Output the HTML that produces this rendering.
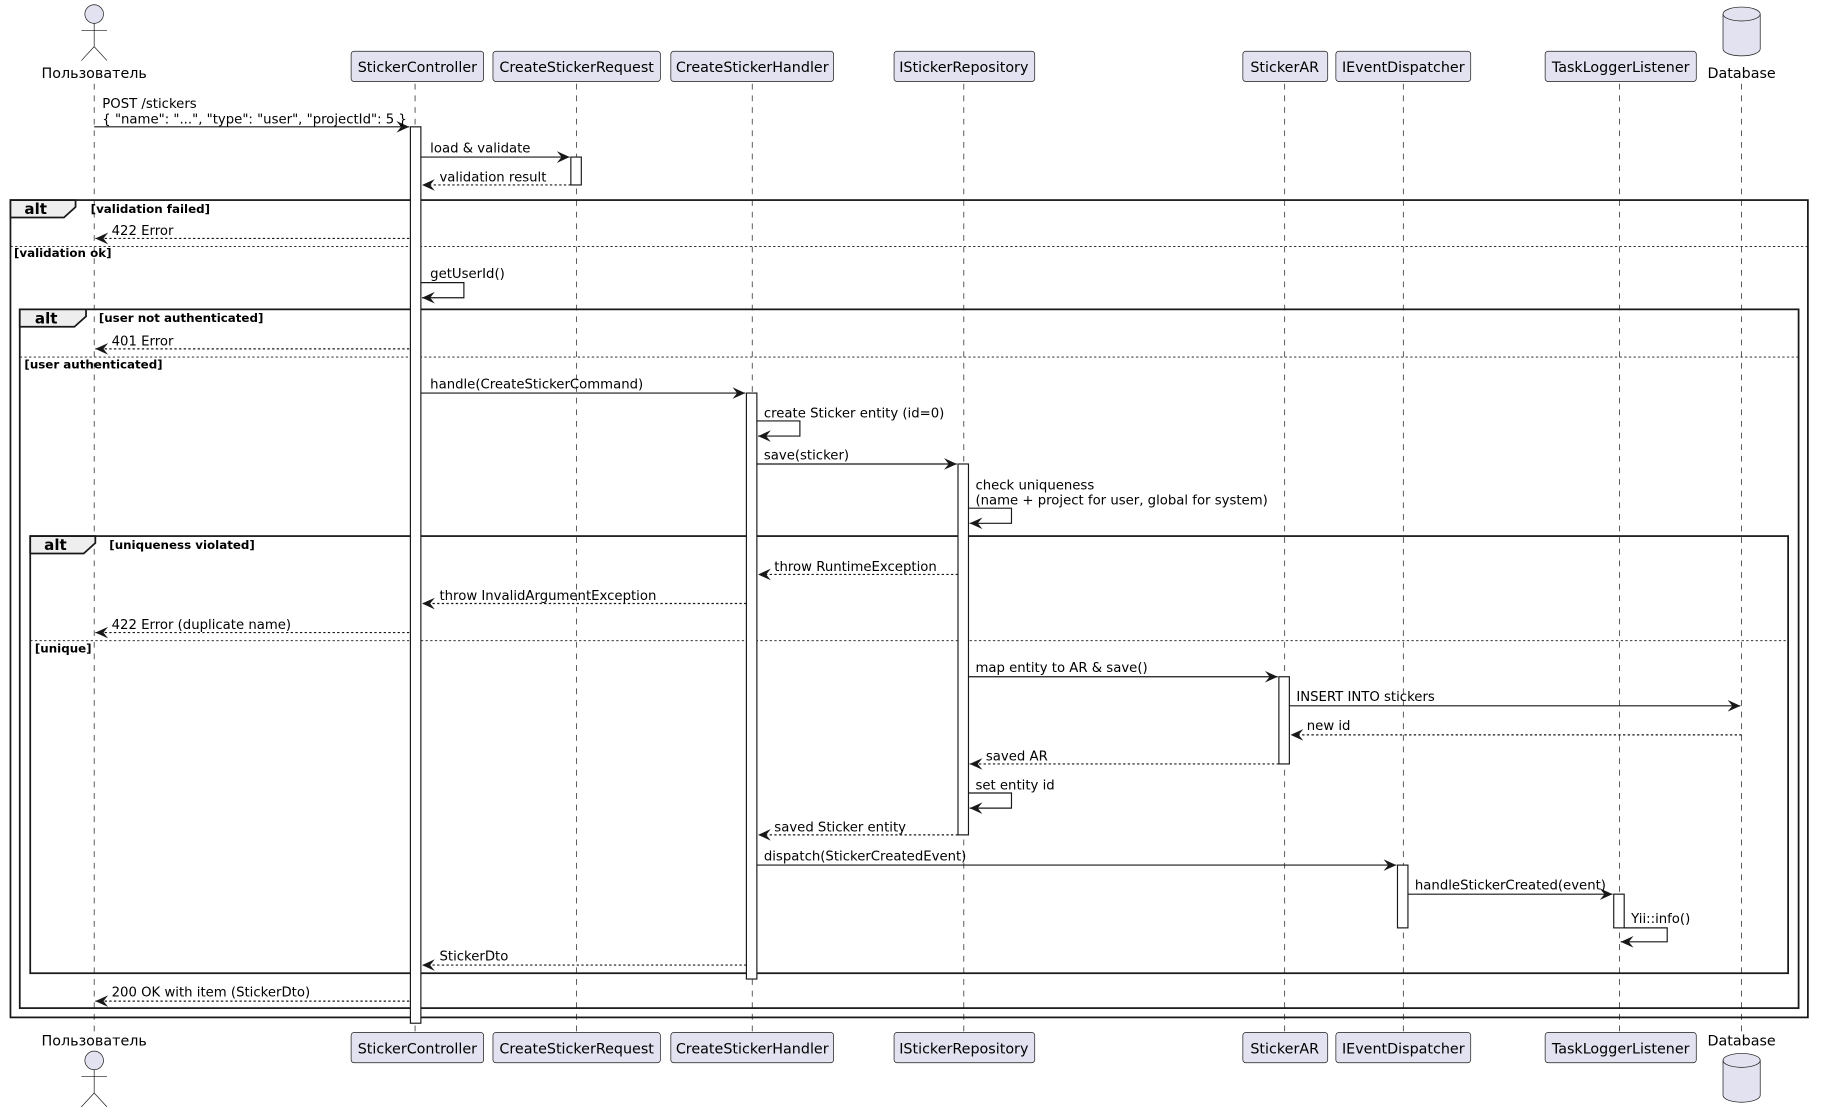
<!DOCTYPE html>
<html><head><meta charset="utf-8"><style>html,body{margin:0;padding:0;background:#fff}svg{display:block}</style></head><body>
<svg width="1823" height="1114" viewBox="0 0 1568 958" xmlns="http://www.w3.org/2000/svg" font-family="'DejaVu Sans','Liberation Sans',sans-serif" font-size="11.4" fill="#000">
<defs>
<marker id="a" markerWidth="14" markerHeight="12" refX="11" refY="5" orient="auto" markerUnits="userSpaceOnUse"><path d="M0,0 L11,5 L0,10 L4,5 Z" fill="#181818"/></marker>
</defs>
<rect width="1568" height="958" fill="#fff"/>
<g stroke="#181818" stroke-width="0.6" stroke-dasharray="5,5">
<line x1="81" y1="72" x2="81" y2="888"/>
<line x1="357" y1="72" x2="357" y2="888"/>
<line x1="496" y1="72" x2="496" y2="888"/>
<line x1="647" y1="72" x2="647" y2="888"/>
<line x1="829" y1="72" x2="829" y2="888"/>
<line x1="1105" y1="72" x2="1105" y2="888"/>
<line x1="1207" y1="72" x2="1207" y2="888"/>
<line x1="1393" y1="72" x2="1393" y2="888"/>
<line x1="1498" y1="72" x2="1498" y2="888"/>
</g>
<g fill="#E2E2F0" stroke="#181818" stroke-width="0.6">
<rect x="302" y="44" width="114" height="26" rx="2.5"/>
<rect x="424" y="44" width="144" height="26" rx="2.5"/>
<rect x="577" y="44" width="140" height="26" rx="2.5"/>
<rect x="769" y="44" width="121" height="26" rx="2.5"/>
<rect x="1069" y="44" width="73" height="26" rx="2.5"/>
<rect x="1149" y="44" width="116" height="26" rx="2.5"/>
<rect x="1329" y="44" width="130" height="26" rx="2.5"/>
<rect x="302" y="888" width="114" height="26" rx="2.5"/>
<rect x="424" y="888" width="144" height="26" rx="2.5"/>
<rect x="577" y="888" width="140" height="26" rx="2.5"/>
<rect x="769" y="888" width="121" height="26" rx="2.5"/>
<rect x="1069" y="888" width="73" height="26" rx="2.5"/>
<rect x="1149" y="888" width="116" height="26" rx="2.5"/>
<rect x="1329" y="888" width="130" height="26" rx="2.5"/>
</g>
<g font-size="12.3" text-anchor="middle">
<text x="359" y="62">StickerController</text><text x="496" y="62">CreateStickerRequest</text><text x="647" y="62">CreateStickerHandler</text><text x="829" y="62">IStickerRepository</text><text x="1105" y="62">StickerAR</text><text x="1207" y="62">IEventDispatcher</text><text x="1394" y="62">TaskLoggerListener</text>
<text x="359" y="906">StickerController</text><text x="496" y="906">CreateStickerRequest</text><text x="647" y="906">CreateStickerHandler</text><text x="829" y="906">IStickerRepository</text><text x="1105" y="906">StickerAR</text><text x="1207" y="906">IEventDispatcher</text><text x="1394" y="906">TaskLoggerListener</text>
<text x="81" y="67">Пользователь</text><text x="81" y="899">Пользователь</text>
<text x="1498" y="67">Database</text><text x="1498" y="899">Database</text>
</g>
<g fill="#E2E2F0" stroke="#181818" stroke-width="0.6">
<circle cx="81" cy="12" r="8"/>
<line x1="81" y1="20" x2="81" y2="40"/><line x1="70" y1="26" x2="92" y2="26"/><line x1="81" y1="40" x2="70" y2="52"/><line x1="81" y1="40" x2="92" y2="52"/>
<circle cx="81" cy="912" r="8"/>
<line x1="81" y1="920" x2="81" y2="940"/><line x1="70" y1="926" x2="92" y2="926"/><line x1="81" y1="940" x2="70" y2="952"/><line x1="81" y1="940" x2="92" y2="952"/>
<path d="M1482,12 a16,6 0 0 1 32,0 v30 a16,6 0 0 1 -32,0 Z"/><path d="M1482,12 a16,6 0 0 0 32,0" fill="none"/>
<path d="M1482,912 a16,6 0 0 1 32,0 v30 a16,6 0 0 1 -32,0 Z"/><path d="M1482,912 a16,6 0 0 0 32,0" fill="none"/>
</g>
<g stroke="#181818" stroke-width="1.5" fill="none">
<rect x="9" y="172" width="1546" height="703"/>
<rect x="17" y="266" width="1530" height="601"/>
<rect x="26" y="461" width="1512" height="376"/>
</g>
<g fill="#EEEEEE" stroke="#181818" stroke-width="1.5">
<path d="M9,172 H65 V178 L55,187 H9 Z"/>
<path d="M17,266 H74 V272 L64,281 H17 Z"/>
<path d="M26,461 H82 V467 L72,476 H26 Z"/>
</g>
<g stroke="#181818" stroke-width="0.8" stroke-dasharray="2,2">
<line x1="9" y1="212" x2="1555" y2="212"/>
<line x1="17" y1="307" x2="1547" y2="307"/>
<line x1="26" y1="551" x2="1538" y2="551"/>
</g>
<g font-weight="bold" font-size="13"><text x="21" y="184">alt</text><text x="30" y="278">alt</text><text x="38" y="473">alt</text></g>
<g font-weight="bold" font-size="10.2">
<text x="78" y="183">[validation failed]</text><text x="12" y="221">[validation ok]</text>
<text x="85" y="277">[user not authenticated]</text><text x="21" y="317">[user authenticated]</text>
<text x="94" y="472">[uniqueness violated]</text><text x="30" y="561">[unique]</text>
</g>
<g fill="#fff" stroke="#181818" stroke-width="1">
<rect x="353" y="109" width="9" height="771"/>
<rect x="491" y="135" width="9" height="24"/>
<rect x="642" y="338" width="9" height="504"/>
<rect x="824" y="399" width="9" height="319"/>
<rect x="1100" y="582" width="9" height="75"/>
<rect x="1202" y="744" width="9" height="54"/>
<rect x="1388" y="769" width="9" height="29"/>
</g>
<g stroke="#181818" stroke-width="1" fill="none" marker-end="url(#a)">
<line x1="81" y1="109" x2="352" y2="109"/>
<line x1="362" y1="135" x2="490" y2="135"/>
<line x1="362" y1="338" x2="641" y2="338"/>
<path d="M362,243 H399 V256 H363"/>
<path d="M651,362 H688 V375 H652"/>
<line x1="651" y1="399" x2="823" y2="399"/>
<path d="M833,437 H870 V450 H834"/>
<line x1="833" y1="582" x2="1099" y2="582"/>
<line x1="1109" y1="607" x2="1497" y2="607"/>
<path d="M833,682 H870 V695 H834"/>
<line x1="651" y1="744" x2="1201" y2="744"/>
<line x1="1211" y1="769" x2="1387" y2="769"/>
<path d="M1397,798 H1434 V810 H1394"/>
</g>
<g stroke="#181818" stroke-width="1" stroke-dasharray="2,2" fill="none" marker-end="url(#a)">
<line x1="491" y1="159" x2="363" y2="159"/>
<line x1="352" y1="205" x2="82" y2="205"/>
<line x1="352" y1="300" x2="82" y2="300"/>
<line x1="824" y1="494" x2="652" y2="494"/>
<line x1="642" y1="519" x2="363" y2="519"/>
<line x1="352" y1="544" x2="82" y2="544"/>
<line x1="1498" y1="632" x2="1110" y2="632"/>
<line x1="1100" y1="657" x2="834" y2="657"/>
<line x1="824" y1="718" x2="652" y2="718"/>
<line x1="642" y1="830" x2="363" y2="830"/>
<line x1="352" y1="861" x2="82" y2="861"/>
</g>
<g>
<text x="88" y="93">POST /stickers</text><text x="88" y="106">{ "name": "...", "type": "user", "projectId": 5 }</text>
<text x="370" y="131">load &amp; validate</text>
<text x="378" y="156">validation result</text>
<text x="96" y="202">422 Error</text>
<text x="370" y="239">getUserId()</text>
<text x="96" y="297">401 Error</text>
<text x="370" y="334">handle(CreateStickerCommand)</text>
<text x="657" y="359">create Sticker entity (id=0)</text>
<text x="657" y="395">save(sticker)</text>
<text x="839" y="421">check uniqueness</text><text x="839" y="434">(name + project for user, global for system)</text>
<text x="666" y="491">throw RuntimeException</text>
<text x="378" y="516">throw InvalidArgumentException</text>
<text x="96" y="541">422 Error (duplicate name)</text>
<text x="839" y="578">map entity to AR &amp; save()</text>
<text x="1115" y="603">INSERT INTO stickers</text>
<text x="1124" y="628">new id</text>
<text x="848" y="654">saved AR</text>
<text x="839" y="679">set entity id</text>
<text x="666" y="715">saved Sticker entity</text>
<text x="657" y="740">dispatch(StickerCreatedEvent)</text>
<text x="1217" y="765">handleStickerCreated(event)</text>
<text x="1403" y="794">Yii::info()</text>
<text x="378" y="826">StickerDto</text>
<text x="96" y="857">200 OK with item (StickerDto)</text>
</g>
</svg>
</body></html>
